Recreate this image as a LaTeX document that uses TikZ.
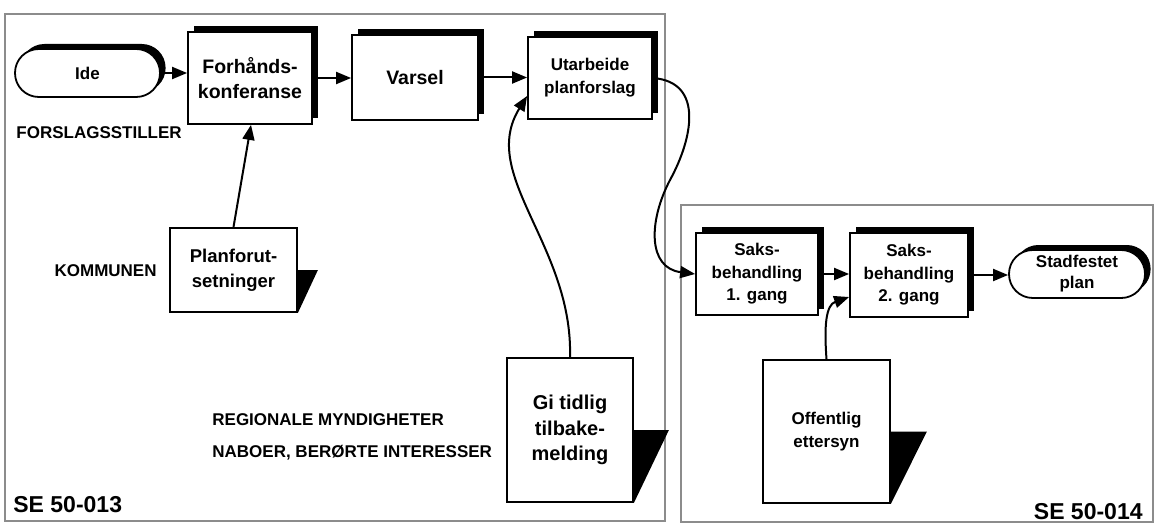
\documentclass[tikz,border=0pt]{standalone}
\usepackage{fontspec}
\setmainfont{Liberation Sans}
\usetikzlibrary{shadows,arrows.meta}
\begin{document}
\begin{tikzpicture}[x=0.5pt,y=-0.5pt,
  proc/.style={draw=black, line width=0.9pt, fill=white, inner sep=0pt, align=center,
    general shadow={fill=black, shadow xshift=3pt, shadow yshift=3.2pt}},
  docbox/.style={draw=black, line width=0.9pt, fill=white, inner sep=0pt, align=center},
  term/.style={draw=black, line width=0.9pt, fill=white, rounded corners=11.9pt, inner sep=0pt, align=center,
    general shadow={fill=black, shadow xshift=2.8pt, shadow yshift=2.5pt}},
  big/.style={font=\bfseries\fontsize{9.75}{12.5}\selectfont},
  mid/.style={font=\bfseries\fontsize{8.5}{11.2}\selectfont},
  small/.style={font=\bfseries\fontsize{8.5}{11.5}\selectfont},
  lbl/.style={font=\bfseries\fontsize{8.5}{10}\selectfont, inner sep=0pt},
  code/.style={font=\bfseries\fontsize{11.5}{13}\selectfont, inner sep=0pt},
  arr/.style={line width=1pt, -{Triangle[length=7.5pt,width=6pt]}},
  framebox/.style={draw=black!45, line width=0.7pt}
]
\useasboundingbox (0,0) rectangle (1161,524);
% frames
\draw[framebox] (5,14) rectangle (665,521);
\draw[framebox] (681,205) rectangle (1153,522);

% top row
\node[term, small, minimum width=72.5pt, minimum height=24pt] (ide) at (87.5,73) {Ide};
\node[proc, big, minimum width=62pt, minimum height=46pt] (forh) at (250,78) {Forhånds-\\konferanse};
\node[proc, big, minimum width=63pt, minimum height=42.5pt] (var) at (415,77.5) {Varsel};
\node[proc, small, minimum width=62pt, minimum height=41pt] (utar) at (590,78) {Utarbeide\\planforslag};

% documents
\node[docbox, font=\bfseries\fontsize{9.25}{12.5}\selectfont, minimum width=63.5pt, minimum height=42pt] (plan) at (233.5,270) {Planforut-\\setninger};
\fill (plan.east) -- ++(20,0) -- (plan.south east) -- cycle;
\node[docbox, font=\bfseries\fontsize{10}{12.75}\selectfont, minimum width=63pt, minimum height=72pt] (gi) at (570,430) {Gi tidlig\\tilbake-\\melding};
\fill (gi.east) -- ++(35,0) -- (gi.south east) -- cycle;
\node[docbox, mid, minimum width=63.5pt, minimum height=71.5pt] (off) at (826.5,431.5) {Offentlig\\ettersyn};
\fill (off.east) -- ++(36,0) -- (off.south east) -- cycle;

% second panel
\node[proc, mid, minimum width=61pt, minimum height=41pt] (saks1) at (757,274) {Saks-\\behandling\\1. gang};
\node[proc, mid, minimum width=59pt, minimum height=42pt] (saks2) at (909,275) {Saks-\\behandling\\2. gang};
\node[term, minimum width=68pt, minimum height=24pt, rounded corners=11.9pt, font=\bfseries\fontsize{8.5}{10.5}\selectfont] (stad) at (1077,274) {Stadfestet\\plan};

% labels
\node[lbl, anchor=west] (lforsl) at (16,133) {FORSLAGSSTILLER};
\node[lbl, anchor=east] (lkomm) at (157,271) {KOMMUNEN};
\node[lbl, anchor=west] (lreg) at (212,420) {REGIONALE MYNDIGHETER};
\node[lbl, anchor=west] (lnab) at (212,453) {NABOER, BERØRTE INTERESSER};
\node[code, anchor=west] (se1) at (13,505) {SE 50-013};
\node[code, anchor=east] (se2) at (1143,512) {SE 50-014};

% connectors
\draw[arr] (ide.east) -- (ide.east -| forh.west);
\draw[arr] (forh.east) -- (forh.east -| var.west);
\draw[arr] (var.east) -- (var.east -| utar.west);
\draw[arr] (plan.north) -- ([xshift=0.5pt]forh.south);
\coordinate (gtip) at (527,96);
\draw[arr] (gi.north) .. controls (573,245) and (478,175) .. (utar.west |- gtip);
\draw[arr] (utar.east) .. controls (705,82) and (692,140) .. (670,180) .. controls (648,222) and (648,268) .. (saks1.west);
\draw[arr] (saks1.east) -- (saks1.east -| saks2.west);
\draw[arr] (saks2.east) -- (saks2.east -| stad.west);
\coordinate (otip) at (850,297);
\draw[arr] (off.north) .. controls (824,325) and (826,305) .. (saks2.west |- otip);
\end{tikzpicture}
\end{document}
